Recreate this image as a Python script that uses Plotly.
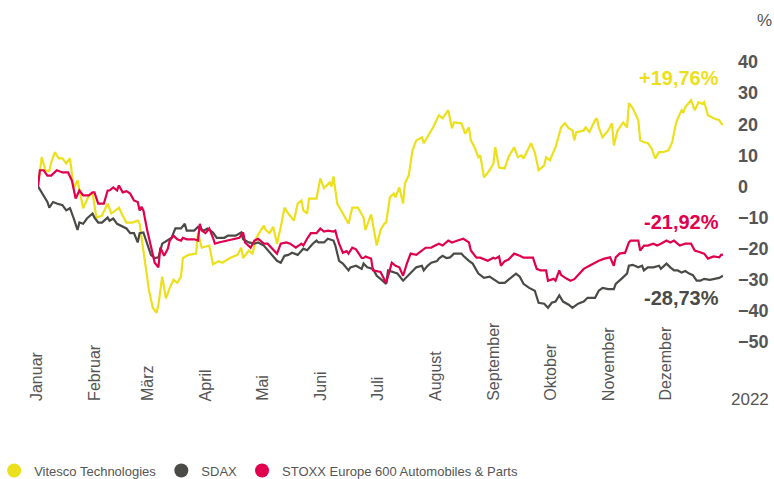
import pandas as pd
import plotly.graph_objects as go

YEAR_START = "2022-01-01"

MONTHS = ["Januar", "Februar", "März", "April", "Mai", "Juni", "Juli",
          "August", "September", "Oktober", "November", "Dezember"]
Y_TICKS = [40, 30, 20, 10, 0, -10, -20, -30, -40, -50]

# Day of year (0 = 1 Jan 2022) and performance in %
vitesco_days = [0, 2, 4, 6, 7, 9, 11, 13, 15, 17, 19, 21, 24, 27, 29, 31, 34, 37, 39, 43, 45, 47, 50, 53, 54,
                57, 59, 61, 63, 64, 66, 68, 70, 72, 74, 76, 77, 80, 84, 85, 87, 91, 93, 96, 98, 102, 106, 108,
                109, 112, 114, 116, 120, 121, 123, 125, 127, 129, 131, 133, 136, 138, 140, 141, 143, 144, 148,
                150, 152, 155, 156, 157, 159, 162, 165, 167, 170, 173, 174, 177, 180, 182, 184, 185, 187, 189,
                190, 192, 194, 195, 197, 199, 201, 204, 205, 208, 210, 213, 215, 218, 220, 221, 225, 227, 229,
                230, 232, 234, 235, 237, 240, 242, 243, 245, 248, 250, 253, 255, 257, 258, 262, 264, 266, 269,
                270, 272, 275, 278, 280, 282, 284, 285, 286, 290, 291, 293, 296, 297, 298, 300, 303, 305, 306,
                308, 311, 313, 314, 316, 319, 320, 322, 324, 326, 328, 330, 332, 335, 337, 339, 340, 342, 343,
                344, 347, 349, 351, 353, 354, 356, 359, 362, 363, 364]
vitesco_vals = [0, 9.4, 5, 5, 7.7, 11, 9, 9, 7.4, 9, -0.6, 2, -7, -3, -2, -10, -9.4, -5.5, -8.7, -6.8, -9.4,
                -11.6, -11.6, -11, -12, -25, -33.5, -39, -40.6, -38, -29, -36, -32.6, -30, -31, -29, -23, -22,
                -21.6, -15, -19.7, -19, -25, -24, -24.5, -23, -22, -19.7, -23, -20.6, -21.6, -16.5, -12.6, -14,
                -15, -13, -18.4, -13, -6.8, -8.7, -11, -5.5, -4.5, -7.7, -8.7, -3.9, -3.9, 2.6, -0.6, 1.3, 0,
                3.2, -5.5, -8.7, -12, -6.8, -6.8, -10, -14, -9, -19, -14, -12, -11.6, -3.5, -2.3, -3.5, -0.3,
                -5.5, 1, 3.5, 11.6, 14.8, 15.8, 13.9, 17, 19, 22.9, 21.9, 24.5, 18.7, 20.6, 20.3, 17, 19, 14.8,
                12.6, 9.4, 10, 2.9, 5.2, 7.4, 12.6, 6.1, 5.8, 9.4, 12.6, 9.4, 10, 9, 13.9, 11, 5.2, 6.8, 9.4,
                8.4, 12.6, 19, 20.3, 18.7, 18, 14.8, 17.4, 18, 19, 17.5, 21.3, 21.9, 19, 15.8, 18, 20.3, 13.2,
                18, 20.6, 19, 26.8, 25.2, 21.3, 14.8, 14.2, 14, 12.3, 9, 11, 11, 11.6, 14.2, 20.3, 21.9, 24.5,
                23.9, 25.5, 27.7, 24.5, 27.1, 26.5, 27.1, 22.9, 21.9, 21.3, 20.3, 19.76]

sdax_days = [0, 2, 5, 6, 8, 10, 12, 13, 15, 17, 19, 21, 22, 24, 26, 29, 30, 32, 34, 37, 38, 40, 42, 45, 47, 49,
             51, 53, 54, 56, 58, 60, 62, 64, 66, 69, 71, 73, 76, 78, 79, 83, 85, 88, 90, 93, 95, 99, 101, 105,
             108, 109, 112, 115, 117, 120, 124, 127, 129, 131, 133, 135, 138, 141, 143, 146, 148, 149, 152, 154,
             157, 158, 160, 162, 165, 166, 169, 172, 173, 175, 178, 180, 182, 185, 186, 189, 191, 194, 196, 198,
             201, 204, 205, 207, 209, 212, 213, 215, 217, 219, 221, 225, 226, 229, 231, 234, 237, 240, 242, 245,
             248, 251, 254, 256, 258, 261, 264, 266, 269, 271, 273, 275, 277, 279, 281, 282, 284, 287, 290, 292,
             296, 298, 300, 303, 306, 307, 310, 313, 314, 316, 319, 321, 322, 324, 327, 330, 331, 334, 336, 338,
             340, 342, 344, 346, 348, 350, 352, 354, 357, 360, 362, 364]
sdax_vals = [0, -2, -5, -6.8, -5, -5.5, -6, -6, -7.7, -7, -10.3, -14, -11.6, -12, -10.3, -8.7, -10, -11.6,
             -11.6, -10, -11, -10.3, -12, -13, -13.5, -15, -15, -18, -15, -14.8, -18.4, -22, -23, -22.8, -18.4,
             -17.4, -16.5, -13.5, -13.5, -12, -14.2, -14.2, -13, -14.2, -13.5, -14.8, -16.5, -16.5, -15.8,
             -15.8, -14.8, -17, -18, -18.4, -18, -19, -21.6, -23.9, -24.5, -22.3, -22, -21.3, -22, -20, -20.5,
             -18.4, -17.4, -18, -18, -16.8, -17.4, -19, -23.9, -24.8, -27, -26, -25.5, -26.5, -24.8, -26,
             -26.5, -28.7, -29.7, -31.3, -27, -27.5, -28, -30.3, -29, -27.7, -26, -25.5, -27, -25.5, -24.5,
             -24, -23.2, -22.3, -23, -22.8, -21.6, -21.6, -22.3, -23.9, -24.8, -28, -29.4, -29, -29.7, -31,
             -31, -29.4, -28, -29, -31.3, -32.6, -33.5, -37.4, -37.7, -39, -37.4, -37, -35, -37, -37.7, -38,
             -39, -37.7, -37, -35.8, -35.8, -33.5, -32.6, -33, -33, -31.3, -29.7, -28, -25.5, -25.2, -26,
             -25.5, -27, -26, -26, -25.5, -26.5, -24.8, -26, -27, -27, -27.7, -27.2, -28, -28.5, -30.3, -30.3,
             -29.7, -30, -29.7, -29.4, -28.73]

stoxx_days = [0, 1, 3, 5, 7, 10, 13, 16, 18, 20, 22, 24, 27, 29, 30, 32, 35, 37, 38, 40, 42, 43, 45, 47, 49,
              51, 53, 54, 55, 56, 58, 60, 62, 64, 65, 67, 69, 70, 72, 74, 76, 77, 79, 83, 85, 86, 87, 89, 91,
              93, 94, 96, 100, 103, 107, 109, 110, 113, 115, 117, 120, 122, 124, 127, 129, 132, 134, 137, 140,
              141, 143, 145, 148, 150, 152, 154, 157, 158, 159, 160, 162, 164, 165, 167, 169, 172, 173, 174,
              177, 178, 182, 185, 188, 190, 192, 194, 196, 198, 201, 204, 206, 209, 210, 213, 215, 218, 220,
              223, 226, 229, 230, 233, 235, 239, 242, 243, 245, 246, 248, 250, 253, 256, 258, 261, 263, 265,
              267, 270, 271, 274, 275, 277, 278, 281, 283, 285, 288, 290, 293, 296, 298, 301, 304, 306, 307,
              309, 312, 314, 315, 319, 320, 322, 324, 327, 329, 331, 334, 336, 338, 341, 344, 347, 349, 351,
              354, 356, 359, 362, 363, 364]
stoxx_vals = [0, 5.2, 5.2, 3.5, 3.5, 5.2, 4.5, 4.5, 1.9, -3.9, -1.3, -2.9, -2.9, -1.9, -1.9, -5.5, -5.5,
              -1.3, -1.3, -0.3, -1.3, 0.3, -1.9, -1.5, -2.3, -4.5, -5, -7.7, -6.5, -7.7, -14, -19, -24.5, -26,
              -19.7, -22.3, -20, -17.4, -15.8, -17, -17.4, -16.5, -17, -17, -17.4, -12, -14.2, -15, -13.5,
              -16.5, -18.4, -18, -17.4, -17, -16.5, -14.8, -18, -19.7, -17.4, -16.8, -18.4, -18.4, -19.7,
              -21.6, -18.4, -18, -18.4, -19.7, -18.4, -19, -16.8, -15, -15, -13.5, -14.5, -14.2, -14.5, -14.2,
              -16.5, -18.4, -21.3, -20.8, -21.6, -19.7, -20.2, -23, -23, -22.5, -23.2, -27, -27.5, -31, -24.5,
              -25.5, -26, -28.7, -24.8, -21.6, -22, -20.6, -19.7, -19.7, -19.3, -18.4, -19, -17.4, -18, -17.4,
              -16.8, -18, -20.6, -22.9, -22.9, -23.9, -22.9, -23.2, -22.5, -25.5, -24, -23.5, -21.6, -22.3,
              -22.9, -22.9, -22.9, -26.5, -27, -27, -30.3, -29.7, -30.3, -27, -28.5, -29.7, -30.3, -29.8, -28,
              -26.5, -25.5, -24.5, -23.9, -23.2, -22.8, -25.5, -22.8, -21.6, -21.3, -18, -17.4, -17.4, -20.6,
              -19, -19, -18.4, -19, -18.4, -17.4, -18, -17.4, -19, -18.4, -18.4, -20.6, -21, -21.6, -23.2,
              -22.5, -22.8, -22, -21.92]

SERIES = [
    ("Vitesco Technologies", vitesco_days, vitesco_vals, "#ECE01C", 35),
    ("SDAX", sdax_days, sdax_vals, "#4A4A46", -36),
    ("STOXX Europe 600 Automobiles & Parts", stoxx_days, stoxx_vals, "#E0004D", -11.5),
]

FONT = "Liberation Sans, Arial, sans-serif"
TEXT_GREY = "#555555"

start = pd.Timestamp(YEAR_START)
fig = go.Figure()
annotations = []
for name, days, vals, color, label_y in SERIES:
    dates = start + pd.to_timedelta(days, unit="D")
    fig.add_trace(go.Scatter(x=dates, y=vals, mode="lines", name=name,
                             line=dict(color=color, width=2.2), showlegend=False,
                             hoverinfo="skip"))
    fig.add_trace(go.Scatter(x=[None], y=[None], mode="markers", name=name,
                             marker=dict(color=color, size=14, symbol="circle")))
    last = vals[-1]
    txt = (f"{last:+.2f}%").replace(".", ",")
    annotations.append(dict(x=start + pd.Timedelta(days=364), y=label_y, xref="x", yref="y",
                            text=txt, showarrow=False, xanchor="right", yanchor="middle",
                            xshift=-2,
                            font=dict(family=FONT, size=20, color=color, weight="bold")))

for i, m in enumerate(MONTHS):
    d = pd.Timestamp(year=2022, month=i + 1, day=1)
    annotations.append(dict(x=d, y=-0.218, xref="x", yref="paper", text=m, textangle=-90,
                            showarrow=False, xanchor="center", yanchor="bottom", xshift=-2,
                            font=dict(family=FONT, size=16, color=TEXT_GREY)))

annotations.append(dict(x=1.061, y=1.15, xref="paper", yref="paper", text="%", showarrow=False,
                        xanchor="center", yanchor="middle",
                        font=dict(family=FONT, size=17, color=TEXT_GREY)))
annotations.append(dict(x=1.039, y=-0.207, xref="paper", yref="paper", text="2022", showarrow=False,
                        xanchor="center", yanchor="middle",
                        font=dict(family=FONT, size=17, color=TEXT_GREY)))

fig.update_layout(
    width=774, height=479,
    margin=dict(l=38, r=51, t=62, b=137, autoexpand=False),
    paper_bgcolor="white", plot_bgcolor="white",
    font=dict(family=FONT, color=TEXT_GREY),
    xaxis=dict(range=[start, start + pd.Timedelta(days=364)], showgrid=False, zeroline=False,
               showline=False, showticklabels=False, ticks="", automargin=False),
    yaxis=dict(range=[-50, 40], side="right", tickvals=Y_TICKS, showgrid=False, zeroline=False,
               showline=False, ticks="", ticklabelstandoff=14, automargin=False,
               tickfont=dict(family=FONT, size=18, color=TEXT_GREY, weight="bold")),
    legend=dict(orientation="h", x=-0.064, xanchor="left", y=-0.459, yanchor="middle",
                font=dict(family=FONT, size=13, color=TEXT_GREY), itemclick=False,
                itemdoubleclick=False, tracegroupgap=0),
    annotations=annotations,
    showlegend=True,
)

fig.write_html("out.html", config={"displayModeBar": False},
               post_script="document.body.style.margin='0';document.body.style.overflow='hidden';")
